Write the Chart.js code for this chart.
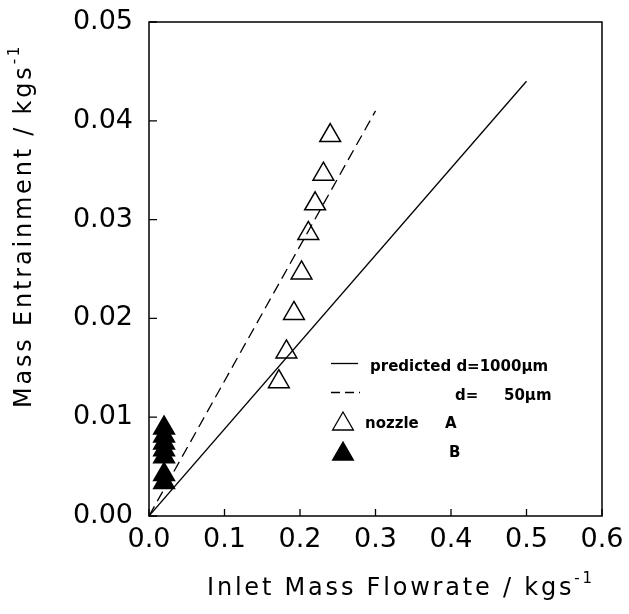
<!DOCTYPE html>
<html><head><meta charset="utf-8">
<script src="https://cdn.jsdelivr.net/npm/chart.js@4/dist/chart.umd.min.js"></script>
<style>html,body{margin:0;padding:0;background:#fff;}#wrap{width:629px;height:614px;}</style>
</head><body><div id="wrap"><canvas id="c" width="629" height="614"></canvas></div>
<script>
// ---- data ----
const xTickValues = [0.0, 0.1, 0.2, 0.3, 0.4, 0.5, 0.6];
const yTickValues = [0.00, 0.01, 0.02, 0.03, 0.04, 0.05];
const nozzleA_x = [0.172, 0.182, 0.192, 0.202, 0.211, 0.220, 0.231, 0.240];
const nozzleA_y = [0.0136, 0.0166, 0.0205, 0.0246, 0.0286, 0.0316, 0.0346, 0.0385];
const nozzleB_x = [0.020, 0.020, 0.020, 0.020, 0.020, 0.020, 0.020];
const nozzleB_y = [0.0034, 0.0042, 0.0060, 0.0067, 0.0074, 0.0081, 0.0089];
const pred1000_x = [0.0, 0.5];
const pred1000_y = [0.0, 0.044];
const pred50_x = [0.0, 0.3];
const pred50_y = [0.0, 0.041];
const xTitleMain = 'Inlet Mass Flowrate / kgs';
const yTitleMain = 'Mass Entrainment / kgs';
const titleSup = '-1';
const legendLabels = ['predicted d=1000\u03bcm', 'd=', '50\u03bcm', 'nozzle', 'A', 'B'];

const pts = (xs, ys) => xs.map((x, i) => ({x: x, y: ys[i]}));
const FONT = '"DejaVu Sans", sans-serif';

const framePlugin = {
  id: 'frame',
  beforeDatasetsDraw(chart) {
    const ctx = chart.ctx, ca = chart.chartArea;
    const xs = chart.scales.x, ys = chart.scales.y;
    ctx.save();
    ctx.strokeStyle = '#000';
    ctx.lineWidth = 1.5;
    ctx.strokeRect(ca.left, ca.top, ca.right - ca.left, ca.bottom - ca.top);
    ctx.lineWidth = 1.3;
    ctx.beginPath();
    xTickValues.forEach(v => {
      const px = xs.getPixelForValue(v);
      ctx.moveTo(px, ca.bottom); ctx.lineTo(px, ca.bottom - 7);
    });
    yTickValues.forEach(v => {
      const py = ys.getPixelForValue(v);
      ctx.moveTo(ca.left, py); ctx.lineTo(ca.left + 8, py);
    });
    ctx.stroke();
    ctx.restore();
  },
  afterDraw(chart) {
    const ctx = chart.ctx, ca = chart.chartArea;
    ctx.save();
    ctx.fillStyle = '#000';
    ctx.strokeStyle = '#000';
    // axis titles with superscripts
    const mainFont = '24px ' + FONT, supFont = '15px ' + FONT;
    ctx.letterSpacing = '2.8px';
    ctx.font = mainFont;
    const wxm = ctx.measureText(xTitleMain).width;
    const wym = ctx.measureText(yTitleMain).width;
    ctx.textBaseline = 'alphabetic';
    ctx.textAlign = 'left';
    let x0 = ca.left + 58, by = 595;
    ctx.font = mainFont; ctx.fillText(xTitleMain, x0, by);
    ctx.font = supFont; ctx.fillText(titleSup, x0 + wxm, by - 12);
    ctx.save();
    ctx.translate(31, 408);
    ctx.rotate(-Math.PI / 2);
    ctx.font = mainFont; ctx.fillText(yTitleMain, 0, 0);
    ctx.font = supFont; ctx.fillText(titleSup, wym, -12);
    ctx.restore();
    ctx.letterSpacing = '0px';

    // legend
    const L = ca.left;
    ctx.lineWidth = 1.3;
    ctx.beginPath(); ctx.moveTo(L + 182, 363.5); ctx.lineTo(L + 209, 363.5); ctx.stroke();
    ctx.setLineDash([9, 5]);
    ctx.beginPath(); ctx.moveTo(L + 182, 392.5); ctx.lineTo(L + 211, 392.5); ctx.stroke();
    ctx.setLineDash([]);
    ctx.fillStyle = '#fff';
    Chart.helpers.drawPoint(ctx, {pointStyle: 'triangle', radius: 12, rotation: 0, borderWidth: 1.5}, L + 194, 424);
    ctx.fillStyle = '#000';
    Chart.helpers.drawPoint(ctx, {pointStyle: 'triangle', radius: 12, rotation: 0, borderWidth: 1.5}, L + 194, 454);
    ctx.font = 'bold 15px ' + FONT;
    ctx.textAlign = 'left';
    ctx.fillText(legendLabels[0], L + 221, 370.5);
    ctx.fillText(legendLabels[1], L + 306, 399.5);
    ctx.fillText(legendLabels[2], L + 355, 399.5);
    ctx.fillText(legendLabels[3], L + 216, 427.5);
    ctx.fillText(legendLabels[4], L + 296, 427.5);
    ctx.fillText(legendLabels[5], L + 300, 457);
    ctx.restore();
  }
};

new Chart(document.getElementById('c'), {
  type: 'scatter',
  data: {
    datasets: [
      {label: 'predicted d=1000\u03bcm', type: 'line', data: pts(pred1000_x, pred1000_y),
       borderColor: '#000', borderWidth: 1.3, pointRadius: 0, fill: false, showLine: true},
      {label: 'd=50\u03bcm', type: 'line', data: pts(pred50_x, pred50_y),
       borderColor: '#000', borderWidth: 1.3, borderDash: [11, 6], pointRadius: 0, fill: false, showLine: true},
      {label: 'nozzle A', data: pts(nozzleA_x, nozzleA_y), pointStyle: 'triangle', pointRadius: 12,
       pointBorderWidth: 1.5, borderColor: '#000', backgroundColor: 'rgba(255,255,255,0)'},
      {label: 'nozzle B', data: pts(nozzleB_x, nozzleB_y), pointStyle: 'triangle', pointRadius: 12,
       pointBorderWidth: 1.5, borderColor: '#000', backgroundColor: '#000'}
    ]
  },
  options: {
    responsive: false,
    devicePixelRatio: 1,
    animation: false,
    events: [],
    layout: {padding: {left: 0, top: 22, right: 27, bottom: 0}},
    plugins: {legend: {display: false}, tooltip: {enabled: false}},
    scales: {
      x: {
        type: 'linear', min: 0, max: 0.6,
        afterBuildTicks: s => { s.ticks = xTickValues.map(v => ({value: v})); },
        afterFit: s => { s.height = 98; s.paddingLeft = 0; s.paddingRight = 0; },
        grid: {display: false, drawTicks: false},
        border: {display: false},
        ticks: {color: '#000', font: {family: FONT, size: 27}, padding: 8, maxRotation: 0,
                callback: v => Number(v).toFixed(1)}
      },
      y: {
        type: 'linear', min: 0, max: 0.05,
        afterBuildTicks: s => { s.ticks = yTickValues.map(v => ({value: v})); },
        afterFit: s => { s.width = 149; s.paddingTop = 0; s.paddingBottom = 0; },
        grid: {display: false, drawTicks: false},
        border: {display: false},
        ticks: {color: '#000', font: {family: FONT, size: 27}, padding: 16,
                callback: v => Number(v).toFixed(2)}
      }
    }
  },
  plugins: [framePlugin]
});
</script></body></html>
